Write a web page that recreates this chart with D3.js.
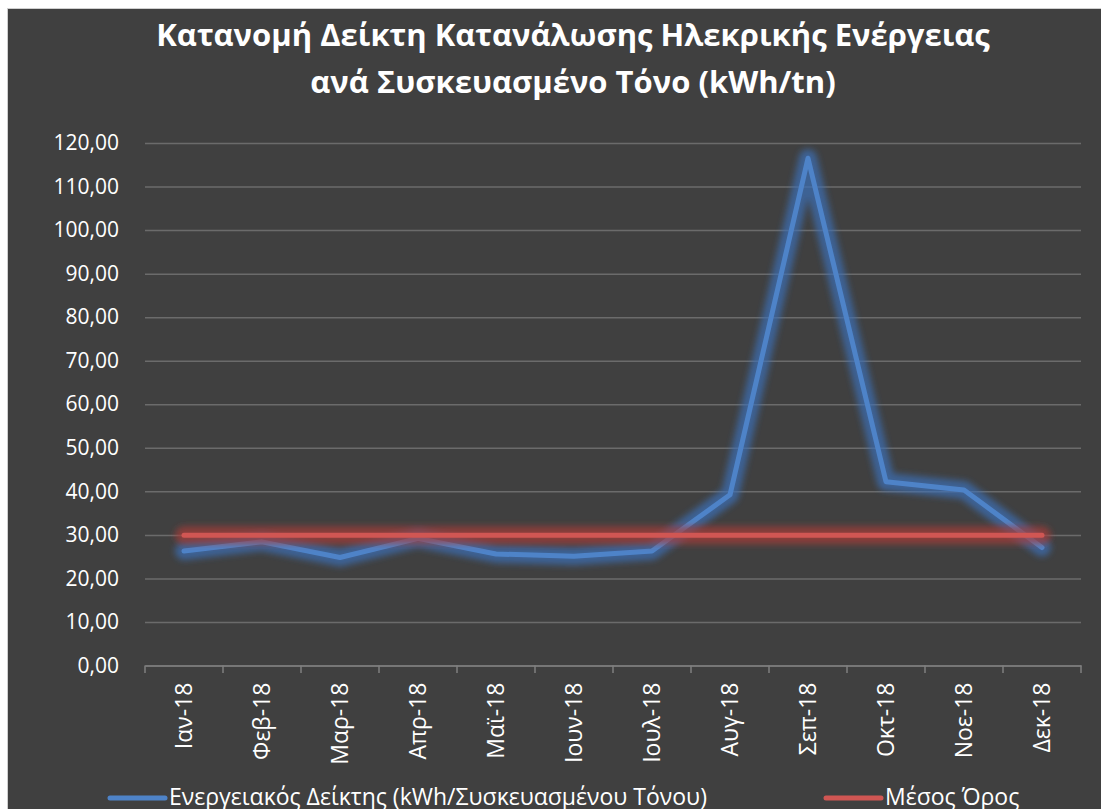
<!DOCTYPE html>
<html>
<head>
<meta charset="utf-8">
<script src="https://cdn.jsdelivr.net/npm/d3@7"></script>
<style>
  body { margin: 0; background: #ffffff; }
  svg { display: block; }
  text { font-family: "Open Sans", sans-serif; fill: #ffffff; }
</style>
</head>
<body>
<svg id="chart" width="1101" height="809"></svg>
<script>
// chart data
let titleLines = ['Κατανομή Δείκτη Κατανάλωσης Ηλεκρικής Ενέργειας', 'ανά Συσκευασμένο Τόνο (kWh/tn)']
let months = ['Ιαν-18', 'Φεβ-18', 'Μαρ-18', 'Απρ-18', 'Μαϊ-18', 'Ιουν-18', 'Ιουλ-18', 'Αυγ-18', 'Σεπ-18', 'Οκτ-18', 'Νοε-18', 'Δεκ-18']
let energyIndex = [26.3, 28.4, 24.8, 29.2, 25.6, 25.1, 26.3, 39.2, 116.5, 42.2, 40.3, 27.1]
let averageValue = [29.9, 29.9, 29.9, 29.9, 29.9, 29.9, 29.9, 29.9, 29.9, 29.9, 29.9, 29.9]
let yTicks = [0, 10, 20, 30, 40, 50, 60, 70, 80, 90, 100, 110, 120]
let seriesNames = ['Ενεργειακός Δείκτης (kWh/Συσκευασμένου Τόνου)', 'Μέσος Όρος']

let svg = d3.select('#chart')

// chart background with thin border
svg.append('rect')
    .attr('x', 7.5).attr('y', 8.5)
    .attr('width', 1100).attr('height', 806)
    .attr('fill', '#404040')
    .attr('stroke', '#cfcfcf')

// glow filter (user space so the flat average line is not clipped)
let defs = svg.append('defs')
defs.append('filter')
    .attr('id', 'glow')
    .attr('filterUnits', 'userSpaceOnUse')
    .attr('x', 0).attr('y', 0)
    .attr('width', 1101).attr('height', 809)
    .append('feGaussianBlur')
    .attr('stdDeviation', 3)

// title
svg.append('g').selectAll('text')
    .data(titleLines)
    .enter()
    .append('text')
    .attr('x', 573)
    .attr('y', (d, i) => 46 + i * 47)
    .attr('text-anchor', 'middle')
    .style('font-size', '31px')
    .style('font-weight', 'bold')
    .text((d) => d)

// scales
let x = d3.scaleBand().domain(months).range([145, 1081])
let y = d3.scaleLinear().domain([0, 120]).range([665.5, 143])
let cx = (m) => x(m) + x.bandwidth() / 2

let locale = d3.formatLocale({ decimal: ',', thousands: '.', grouping: [3], currency: ['', '€'] })
let fmt = locale.format('.2f')

// y axis + gridlines
let yAxis = svg.append('g')
    .attr('transform', 'translate(145,0)')
    .call(d3.axisLeft(y).tickValues(yTicks).tickSize(-936).tickPadding(26).tickFormat(fmt))
yAxis.select('.domain').remove()
yAxis.selectAll('line').attr('stroke', '#6b6b6b').attr('stroke-width', 1.5)
yAxis.selectAll('text').attr('fill', '#ffffff').style('font-size', '21px').style('font-family', '"Open Sans", sans-serif')

// x axis
let xAxis = svg.append('g')
    .attr('transform', 'translate(0,665.5)')
    .call(d3.axisBottom(x).tickSize(0))
xAxis.select('.domain').attr('stroke', '#7f7f7f').attr('stroke-width', 1.5)
xAxis.selectAll('.tick line').remove()
xAxis.selectAll('text')
    .attr('fill', '#ffffff')
    .attr('x', -17)
    .attr('y', 0)
    .attr('dy', '0.35em')
    .attr('transform', 'rotate(-90)')
    .style('text-anchor', 'end')
    .style('font-size', '23px')
    .style('font-family', '"Open Sans", sans-serif')

// tick marks between categories
let boundaries = months.map((m) => x(m)).concat([x.range()[1]])
svg.append('g').selectAll('line')
    .data(boundaries)
    .enter()
    .append('line')
    .attr('x1', (d) => d).attr('x2', (d) => d)
    .attr('y1', 665.5).attr('y2', 673)
    .attr('stroke', '#7f7f7f')
    .attr('stroke-width', 1.5)

// lines with glow
let series = [
    { values: energyIndex, color: '#4e83c8', glow: '#3a70b8' },
    { values: averageValue, color: '#d05653', glow: '#a83a37' }
]
let line = d3.line()
    .x((d, i) => cx(months[i]))
    .y((d) => y(d))

series.forEach((s) => {
    svg.append('path')
        .attr('d', line(s.values))
        .attr('fill', 'none')
        .attr('stroke', s.glow)
        .attr('stroke-opacity', 0.7)
        .attr('stroke-width', 18)
        .attr('stroke-linejoin', 'round')
        .attr('stroke-linecap', 'round')
        .attr('filter', 'url(#glow)')
    svg.append('path')
        .attr('d', line(s.values))
        .attr('fill', 'none')
        .attr('stroke', s.color)
        .attr('stroke-width', 5)
        .attr('stroke-linejoin', 'round')
        .attr('stroke-linecap', 'round')
})

// legend
let legendItems = [
    { name: seriesNames[0], color: '#4e83c8', x: 110 },
    { name: seriesNames[1], color: '#d05653', x: 826 }
]
let legend = svg.append('g').selectAll('g')
    .data(legendItems)
    .enter()
    .append('g')
    .attr('transform', (d) => 'translate(' + d.x + ',798)')
legend.append('line')
    .attr('x1', 0).attr('x2', 55)
    .attr('stroke', (d) => d.color)
    .attr('stroke-width', 5)
    .attr('stroke-linecap', 'round')
legend.append('text')
    .attr('x', 59)
    .attr('y', 7)
    .style('font-size', '23px')
    .text((d) => d.name)
</script>
</body>
</html>
